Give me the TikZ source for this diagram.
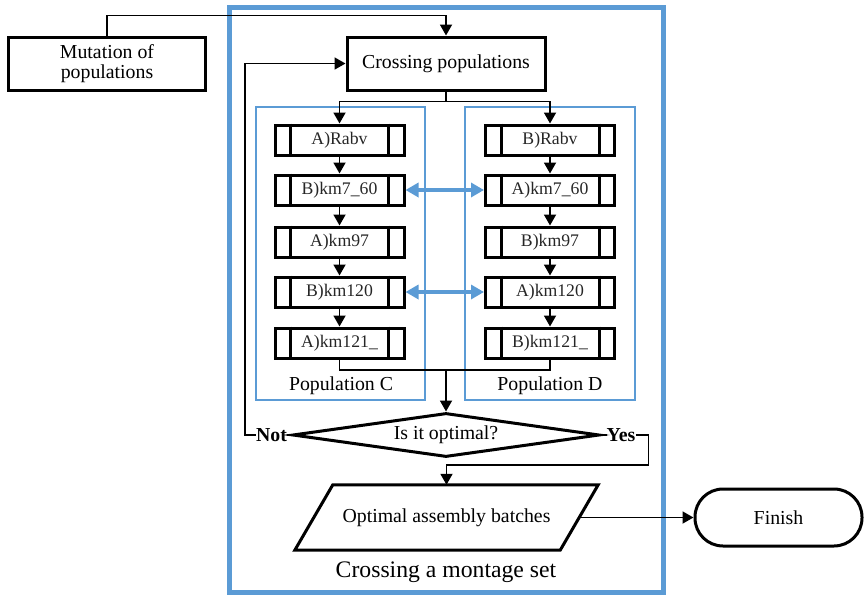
\documentclass[tikz,border=0pt]{standalone}
\usepackage{fontspec}
\setmainfont{Liberation Serif}
\usetikzlibrary{arrows.meta,shapes.geometric}
\definecolor{frameblue}{RGB}{91,155,213}
\begin{document}
\begin{tikzpicture}[x=1pt,y=-1pt,
  every node/.style={font=\fontsize{19.8}{21}\selectfont, inner sep=0pt},
  thickbox/.style={draw, line width=3pt, rectangle},
  procbox/.style={thickbox, minimum width=129pt, minimum height=30pt,
    font=\fontsize{17.7}{19}\selectfont, text=black!85},
  arr/.style={line width=1.8pt, -{Triangle[width=12pt,length=11pt]}},
  plain/.style={line width=1.8pt},
  bluearr/.style={draw=frameblue, line width=4pt,
    {Triangle[width=14pt,length=13pt]}-{Triangle[width=14pt,length=13pt]}},
  popframe/.style={draw=frameblue, line width=2pt},
  boldlabel/.style={font=\fontsize{19.8}{21}\selectfont\bfseries}]

\useasboundingbox (0,0) rectangle (865,597);

% outer frame of the crossing stage
\draw[draw=frameblue, line width=5pt] (229.5,7.5) rectangle (663.5,592.5);

% population frames
\draw[popframe] (256,107) rectangle (425,400);
\draw[popframe] (465,107) rectangle (635,400);

% main boxes
\node[thickbox, minimum width=197pt, minimum height=53pt, align=center,
  font=\fontsize{19.8}{20.5}\selectfont] (mut) at (107,63.5) {Mutation of\\populations};
\node[thickbox, minimum width=198pt, minimum height=53pt] (cross) at (446,63.5) {Crossing populations};

% chromosome genes of the two populations
\foreach \n/\y/\tc/\td in {1/140/A)Rabv/B)Rabv, 2/190/B)km7\_60/A)km7\_60,
    3/242/A)km97/B)km97, 4/292/B)km120/A)km120, 5/343/A)km121\_/B)km121\_}{
  \node[procbox] (C\n) at (339.5,\y) {\tc};
  \node[procbox] (D\n) at (550,\y) {\td};
  \foreach \s in {C,D}{
    \draw[line width=3pt] ([xshift=17pt]\s\n.north west) -- ([xshift=17pt]\s\n.south west)
      ([xshift=-17pt]\s\n.north east) -- ([xshift=-17pt]\s\n.south east);
  }
}
\foreach \a/\b in {1/2,2/3,3/4,4/5}{
  \draw[arr] (C\a.south) -- (C\b.north);
  \draw[arr] (D\a.south) -- (D\b.north);
}

\node (labC) at (341,386) {Population C};
\node (labD) at (550,386) {Population D};

% decision
\node[draw, diamond, line width=3pt, minimum width=307pt, minimum height=44pt,
  shape aspect=7] (dec) at (446,435) {Is it optimal?};
\node[boldlabel] (not) at (271.5,435) {Not};
\node[boldlabel] (yes) at (621,435) {Yes};

% output
\node[minimum width=265pt, minimum height=65pt] (opt) at (446.5,517.5) {Optimal assembly batches};
\draw[line width=3pt, line join=miter]
  ([xshift=19pt]opt.north west) -- ([xshift=19pt]opt.north east)
  -- ([xshift=-19pt]opt.south east) -- ([xshift=-19pt]opt.south west) -- cycle;

\node[draw, line width=3pt, rounded corners=28pt, minimum width=167pt,
  minimum height=57pt] (fin) at (778.5,517.5) {Finish};

\node[font=\fontsize{23.7}{25}\selectfont] (title) at (446,572) {Crossing a montage set};

% connectors
\draw[arr] (mut.north) -- ++(0,-20) -| (cross.north);
\draw[plain] (cross.south) -- ++(0,10) coordinate (split);
\draw[arr] (split) -| (C1.north);
\draw[arr] (split) -| (D1.north);

\coordinate (join) at (446,370);
\draw[plain] (C5.south) |- (join) -| (D5.south);
\draw[arr] (join) -- (dec.north);

\draw[bluearr] (C2.east) -- (D2.west);
\draw[bluearr] (C4.east) -- (D4.west);

\draw[plain] (dec.west) -- (not.east);
\draw[arr] (not.west) -- ++(-11,0) |- (cross.west);
\draw[plain] (dec.east) -- (yes.west);
\draw[arr] (yes.east) -- ++(13,0) |- ([yshift=20pt]opt.north) -- (opt.north);
\draw[arr] (opt.east) -- (fin.west);
\end{tikzpicture}
\end{document}
